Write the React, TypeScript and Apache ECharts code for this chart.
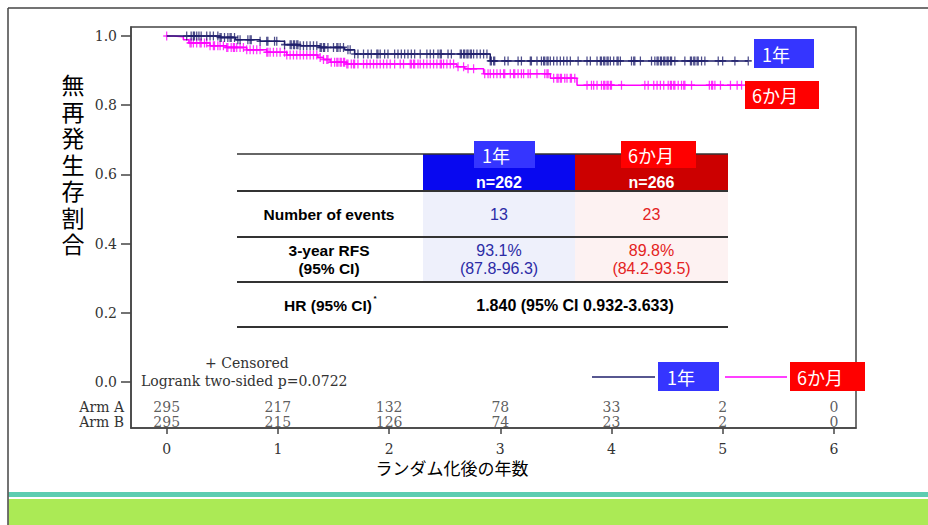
import React, { useEffect, useRef } from "react";
import * as echarts from "echarts";

// Kaplan-Meier step points (time in years, survival)
const armAStepT = [0, 0.48, 0.62, 0.84, 1.06, 1.2, 1.38, 1.6, 1.69, 2.91, 5.23];
const armAStepS = [1.0, 0.996, 0.989, 0.985, 0.975, 0.972, 0.967, 0.96, 0.948, 0.928, 0.928];
const armBStepT = [0, 0.06, 0.15, 0.2, 0.39, 0.54, 0.72, 0.9, 1.08, 1.36, 1.41, 1.47, 1.62, 2.61, 2.68, 2.85, 3.45, 3.69, 5.17];
const armBStepS = [1.0, 0.998, 0.989, 0.98, 0.972, 0.967, 0.96, 0.953, 0.945, 0.938, 0.932, 0.924, 0.919, 0.911, 0.905, 0.891, 0.878, 0.858, 0.858];

// censored times
const armACensor = [
  0.18, 0.22, 0.24, 0.25, 0.27, 0.29, 0.31, 0.36, 0.39, 0.42, 0.46, 0.48, 0.49, 0.52, 0.55, 0.57, 0.58, 0.61, 0.64, 0.66,
  0.73, 0.75, 0.76, 0.84, 0.9, 0.91, 0.97, 0.99, 1.06, 1.11, 1.12, 1.14, 1.15, 1.17, 1.18, 1.2, 1.23, 1.26,
  1.29, 1.32, 1.35, 1.38, 1.39, 1.41, 1.42, 1.45, 1.5, 1.53, 1.54, 1.56, 1.59, 1.63, 1.65, 1.69, 1.72, 1.77, 1.81, 1.84,
  1.89, 1.9, 1.92, 1.96, 1.99, 2.05, 2.08, 2.11, 2.14, 2.17, 2.2, 2.23, 2.28, 2.34, 2.37, 2.4, 2.44, 2.46, 2.47, 2.53,
  2.56, 2.64, 2.65, 2.67, 2.68, 2.7, 2.71, 2.73, 2.74, 2.76, 2.79, 2.82, 2.85, 2.88, 2.91, 2.92, 2.94, 2.95, 3.04, 3.07,
  3.16, 3.19, 3.27, 3.28, 3.33, 3.37, 3.39, 3.4, 3.42, 3.43, 3.45, 3.48, 3.51, 3.54, 3.57, 3.6, 3.63, 3.7, 3.78, 3.81,
  3.87, 3.9, 3.91, 3.93, 3.94, 3.96, 3.97, 3.99, 4.02, 4.05, 4.06, 4.08, 4.18, 4.2, 4.21, 4.26, 4.36, 4.39, 4.41, 4.42,
  4.44, 4.45, 4.47, 4.48, 4.5, 4.51, 4.53, 4.54, 4.57, 4.66, 4.71, 4.72, 4.74, 4.75, 4.77, 4.78, 4.81, 4.84, 4.96, 5.0,
  5.11, 5.23,
];
const armBCensor = [
  0.0, 0.21, 0.22, 0.24, 0.27, 0.3, 0.31, 0.34, 0.36, 0.39, 0.42, 0.43, 0.46, 0.48, 0.51, 0.54, 0.55, 0.58, 0.6, 0.61,
  0.63, 0.66, 0.69, 0.72, 0.75, 0.78, 0.81, 0.84, 0.9, 0.91, 0.93, 0.96, 0.99, 1.02, 1.06, 1.08, 1.11, 1.14, 1.17, 1.2,
  1.23, 1.26, 1.29, 1.32, 1.35, 1.38, 1.41, 1.44, 1.45, 1.48, 1.51, 1.53, 1.54, 1.56, 1.57, 1.59, 1.6, 1.62, 1.63, 1.66,
  1.68, 1.69, 1.72, 1.77, 1.8, 1.83, 1.86, 1.89, 1.92, 1.95, 1.98, 2.01, 2.05, 2.1, 2.13, 2.19, 2.2, 2.22, 2.23, 2.26,
  2.28, 2.31, 2.34, 2.37, 2.4, 2.43, 2.46, 2.47, 2.49, 2.52, 2.55, 2.58, 2.62, 2.67, 2.71, 2.76, 2.86, 2.89, 2.91, 2.94,
  2.97, 3.0, 3.03, 3.04, 3.09, 3.12, 3.13, 3.16, 3.19, 3.21, 3.25, 3.27, 3.33, 3.4, 3.42, 3.43, 3.48, 3.51, 3.52, 3.54,
  3.55, 3.58, 3.6, 3.63, 3.64, 3.67, 3.78, 3.82, 3.84, 3.87, 3.91, 3.93, 3.94, 3.96, 3.97, 3.99, 4.0, 4.09, 4.3, 4.33,
  4.38, 4.41, 4.44, 4.47, 4.51, 4.53, 4.54, 4.56, 4.57, 4.6, 4.63, 4.65, 4.66, 4.72, 4.88, 4.9, 4.91, 4.93, 4.98, 5.07,
  5.13, 5.17,
];

// numbers at risk
const atRiskTimes = [0, 1, 2, 3, 4, 5, 6];
const atRiskA = [295, 217, 132, 78, 33, 2, 0];
const atRiskB = [295, 215, 126, 74, 23, 2, 0];

const xTicks = [0, 1, 2, 3, 4, 5, 6];
const yTicks = [0, 0.2, 0.4, 0.6, 0.8, 1.0];

const yTitleChars = ["無", "再", "発", "生", "存", "割", "合"];
const xTitle = "ランダム化後の年数";
const seriesNames = ["1年", "6か月"];
const tableRowLabels = ["Number of events", "3-year RFS", "(95% CI)", "HR (95% CI)"];
const tableN = ["n=262", "n=266"];
const tableEvents = ["13", "23"];
const tableRfs = ["93.1%", "89.8%"];
const tableRfsCi = ["(87.8-96.3)", "(84.2-93.5)"];
const tableHr = "1.840 (95% CI 0.932-3.633)";

const NAVY = "#1F1F6B";
const MAGENTA = "#FF00FF";
const BOX_BLUE = "#3535FF";
const BOX_RED = "#FF0000";
const JP = "'Noto Sans CJK JP', 'Noto Sans', sans-serif";
const SERIF = "'DejaVu Serif', 'Liberation Serif', serif";
const SANS = "'Liberation Sans', Arial, sans-serif";

const PLUS = "path://M3.7,0 h1.6 v3.7 h3.7 v1.6 h-3.7 v3.7 h-1.6 v-3.7 h-3.7 v-1.6 h3.7 z";

function stepPairs(t: number[], s: number[]) {
  return t.map((v, i) => [v, s[i]]);
}
function survAt(t: number[], s: number[], x: number) {
  let v = s[0];
  for (let i = 0; i < t.length; i++) if (t[i] <= x) v = s[i];
  return v;
}

export default function App() {
  const ref = useRef<HTMLDivElement>(null);
  useEffect(() => {
    if (!ref.current) return;
    const chart = echarts.init(ref.current, null, { renderer: "svg" });

    const txt = (text: string, x: number, y: number, o: any = {}) => ({
      type: "text",
      z: 100,
      x,
      y,
      style: {
        text,
        fill: o.fill || "#000",
        font: o.font || `14px ${SANS}`,
        textAlign: o.align || "center",
        textVerticalAlign: "middle",
      },
    });
    const rect = (x: number, y: number, w: number, h: number, fill: string) => ({
      type: "rect",
      z: 99,
      shape: { x, y, width: w, height: h },
      style: { fill },
    });
    const hline = (x1: number, x2: number, y: number, stroke = "#333", w = 2) => ({
      type: "line",
      z: 99,
      shape: { x1, y1: y, x2, y2: y },
      style: { stroke, lineWidth: w },
    });

    const TL = 237, C1 = 423, C2 = 575, TR = 728;
    const cA = (C1 + C2) / 2, cB = (C2 + TR) / 2, cL = 329;

    const graphic: any[] = [
      // page frame and bottom bands
      { type: "line", z: 100, shape: { x1: 8, y1: 8, x2: 928, y2: 8 }, style: { stroke: "#444", lineWidth: 1.5 } },
      { type: "line", z: 100, shape: { x1: 8, y1: 8, x2: 8, y2: 525 }, style: { stroke: "#444", lineWidth: 1.5 } },
      rect(8.5, 492, 920, 5, "#5DCDB1"),
      rect(8.5, 499, 920, 26, "#ABEA55"),
      // axis titles
      ...yTitleChars.map((c, i) => txt(c, 73, 84 + i * 26.5, { font: `23px ${JP}` })),
      txt(xTitle, 452, 467, { font: `17px ${JP}` }),
      // annotations
      txt("+ Censored", 205, 363, { align: "left", font: `14px ${SERIF}`, fill: "#333" }),
      txt("Logrank two-sided p=0.0722", 141, 381, { align: "left", font: `14px ${SERIF}`, fill: "#333" }),
      txt("Arm A", 124, 407, { align: "right", font: `14px ${SERIF}`, fill: "#333" }),
      txt("Arm B", 124, 422, { align: "right", font: `14px ${SERIF}`, fill: "#333" }),
      // top-right legend boxes
      rect(754, 39, 60, 29, BOX_BLUE),
      txt(seriesNames[0], 762, 53.5, { align: "left", font: `18px ${JP}`, fill: "#fff" }),
      rect(745, 81, 74, 28, BOX_RED),
      txt(seriesNames[1], 752, 95, { align: "left", font: `18px ${JP}`, fill: "#fff" }),
      // bottom legend
      { type: "line", z: 100, shape: { x1: 592, y1: 377, x2: 655, y2: 377 }, style: { stroke: NAVY, lineWidth: 1.5 } },
      rect(658, 362, 61, 29, BOX_BLUE),
      txt(seriesNames[0], 667, 376.5, { align: "left", font: `18px ${JP}`, fill: "#fff" }),
      { type: "line", z: 100, shape: { x1: 725, y1: 377, x2: 787, y2: 377 }, style: { stroke: MAGENTA, lineWidth: 1.5 } },
      rect(790, 362, 75, 29, BOX_RED),
      txt(seriesNames[1], 797, 376.5, { align: "left", font: `18px ${JP}`, fill: "#fff" }),
      // table backgrounds
      rect(TL, 154, TR - TL, 173, "#FFFFFF"),
      rect(C1, 154, C2 - C1, 37, "#0808F0"),
      rect(C2, 154, TR - C2, 37, "#CC0000"),
      rect(C1, 191, C2 - C1, 91, "#EEF0FB"),
      rect(C2, 191, TR - C2, 91, "#FDF2F2"),
      hline(TL, TR, 154, "#333", 1.5),
      hline(TL, TR, 191),
      hline(TL, TR, 237),
      hline(TL, TR, 282),
      hline(TL, TR, 327),
      txt(tableN[0], cA, 182, { font: `bold 16px ${SANS}`, fill: "#fff" }),
      txt(tableN[1], cB, 182, { font: `bold 16px ${SANS}`, fill: "#fff" }),
      rect(474, 141, 61, 27, BOX_BLUE),
      txt(seriesNames[0], 482, 154.5, { align: "left", font: `18px ${JP}`, fill: "#fff" }),
      rect(621, 141, 75, 27, BOX_RED),
      txt(seriesNames[1], 628, 154.5, { align: "left", font: `18px ${JP}`, fill: "#fff" }),
      txt(tableRowLabels[0], cL, 214, { font: `bold 15.5px ${SANS}` }),
      txt(tableEvents[0], cA, 214, { font: `16px ${SANS}`, fill: "#2B2BA6" }),
      txt(tableEvents[1], cB, 214, { font: `16px ${SANS}`, fill: "#E42222" }),
      txt(tableRowLabels[1], cL, 250, { font: `bold 15.5px ${SANS}` }),
      txt(tableRowLabels[2], cL, 268, { font: `bold 15.5px ${SANS}` }),
      txt(tableRfs[0], cA, 250, { font: `16px ${SANS}`, fill: "#2B2BA6" }),
      txt(tableRfsCi[0], cA, 268, { font: `16px ${SANS}`, fill: "#2B2BA6" }),
      txt(tableRfs[1], cB, 250, { font: `16px ${SANS}`, fill: "#E42222" }),
      txt(tableRfsCi[1], cB, 268, { font: `16px ${SANS}`, fill: "#E42222" }),
      txt(tableRowLabels[3], cL - 1, 305, { font: `bold 15.5px ${SANS}` }),
      txt("*", 375, 298, { font: `bold 8px ${SANS}` }),
      txt(tableHr, C2, 305, { font: `bold 16px ${SANS}` }),
    ];

    const option: any = {
      animation: false,
      backgroundColor: "#fff",
      grid: { left: 131, right: 72, top: 27, bottom: 97, show: true, borderColor: "#444", borderWidth: 1.5, backgroundColor: "transparent" },
      xAxis: {
        type: "value",
        min: -0.321,
        max: 6.199,
        axisLine: { show: true, onZero: false, lineStyle: { color: "#444", width: 1.5 } },
        axisTick: { show: true, length: 6, customValues: xTicks, lineStyle: { color: "#444", width: 1.5 } },
        axisLabel: { customValues: xTicks, margin: 14, fontFamily: SERIF, fontSize: 14, color: "#333" },
        splitLine: { show: false },
      },
      yAxis: {
        type: "value",
        min: -0.133,
        max: 1.026,
        axisLine: { show: true, onZero: false, lineStyle: { color: "#444", width: 1.5 } },
        axisTick: { show: true, length: 10, customValues: yTicks, lineStyle: { color: "#444", width: 1.5 } },
        axisLabel: {
          customValues: yTicks,
          margin: 14,
          fontFamily: SERIF,
          fontSize: 14,
          color: "#333",
          formatter: (v: number) => v.toFixed(1),
        },
        splitLine: { show: false },
      },
      series: [
        {
          name: seriesNames[1],
          type: "line",
          step: "end",
          showSymbol: false,
          data: stepPairs(armBStepT, armBStepS),
          lineStyle: { color: MAGENTA, width: 1.5 },
          z: 3,
        },
        {
          name: seriesNames[1] + " censored",
          type: "scatter",
          symbol: PLUS,
          symbolSize: [7, 9],
          data: armBCensor.map((t) => [t, survAt(armBStepT, armBStepS, t)]),
          itemStyle: { color: MAGENTA },
          z: 3,
        },
        {
          name: seriesNames[0],
          type: "line",
          step: "end",
          showSymbol: false,
          data: stepPairs(armAStepT, armAStepS),
          lineStyle: { color: NAVY, width: 1.5 },
          z: 4,
        },
        {
          name: seriesNames[0] + " censored",
          type: "scatter",
          symbol: PLUS,
          symbolSize: [7, 9],
          data: armACensor.map((t) => [t, survAt(armAStepT, armAStepS, t)]),
          itemStyle: { color: NAVY },
          z: 4,
        },
        {
          name: "Arm A at risk",
          type: "scatter",
          symbolSize: 1,
          itemStyle: { color: "rgba(0,0,0,0)" },
          data: atRiskTimes.map((t, i) => [t, -0.072, atRiskA[i]]),
          label: { show: true, position: "inside", formatter: (p: any) => String(p.value[2]), fontFamily: SERIF, fontSize: 14, color: "#333" },
        },
        {
          name: "Arm B at risk",
          type: "scatter",
          symbolSize: 1,
          itemStyle: { color: "rgba(0,0,0,0)" },
          data: atRiskTimes.map((t, i) => [t, -0.115, atRiskB[i]]),
          label: { show: true, position: "inside", formatter: (p: any) => String(p.value[2]), fontFamily: SERIF, fontSize: 14, color: "#333" },
        },
      ],
      graphic,
    };
    chart.setOption(option);
    return () => chart.dispose();
  }, []);

  return <div ref={ref} style={{ position: "fixed", left: 0, top: 0, width: 928, height: 525 }} />;
}
